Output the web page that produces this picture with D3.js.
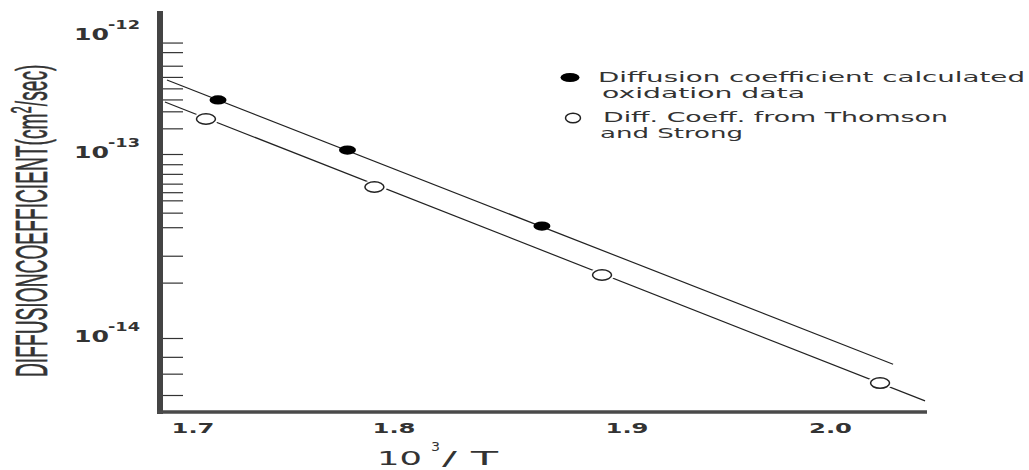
<!DOCTYPE html>
<html>
<head>
<meta charset="utf-8">
<script src="https://cdn.jsdelivr.net/npm/d3@7/dist/d3.min.js"></script>
<style>
  html, body { margin: 0; padding: 0; background: #fff; }
  svg { display: block; }
</style>
</head>
<body>
<svg id="chart" width="1029" height="470"></svg>
<script>
// ---- data ----
// x: 10^3 / T ; y: diffusion coefficient (cm^2/sec), log axis
const xTicks = [1.7, 1.8, 1.9, 2.0];
const decadeTicks = [1e-12, 1e-13, 1e-14];
const decadeLabels = ["-12", "-13", "-14"];
// unlabeled minor ticks along the coefficient axis
const minorTicks = [
  1.65e-13, 2.3e-13, 2.9e-13, 3.6e-13, 4.5e-13, 5.6e-13, 7.3e-13, 8.8e-13,
  2.0e-14, 2.8e-14, 4.0e-14, 4.8e-14, 5.6e-14, 6.2e-14, 6.9e-14, 7.8e-14, 8.8e-14,
  7.9e-15, 6.4e-15, 4.9e-15
];

// diffusion coefficient calculated from oxidation data (filled)
const oxidX = [1.7127, 1.7771, 1.8637];
const oxidY = [2.87e-13, 1.08e-13, 4.06e-14];
// Thomson and Strong (open)
const thomX = [1.7067, 1.7905, 1.8895, 2.0246];
const thomY = [1.98e-13, 6.62e-14, 2.20e-14, 5.69e-15];

// straight-line fits through each set
const oxidFitX = [1.6873, 2.0310];
const oxidFitY = [4.24e-13, 7.2e-15];
const thomFitX = [1.6863, 2.0467];
const thomFitY = [2.76e-13, 4.55e-15];

const legendOxid = ["Diffusion coefficient calculated", "oxidation data"];
const legendThom = ["Diff. Coeff. from Thomson", "and Strong"];

// ---- layout ----
const plotLeft = 160, plotRight = 927, plotTop = 11, plotBottom = 412;
const textColor = "#333";

const svg = d3.select("#chart");

// hand-ruled axes: piecewise scales follow the ruled tick spacing
const x = d3.scaleLinear()
  .domain(xTicks)
  .range([192.5, 393.5, 626.5, 830]);
const y = d3.scaleLog()
  .domain(decadeTicks)
  .range([36, 154, 338]);

// ---- y ticks ----
const yAxis = d3.axisRight(y)
  .tickValues([1e-13, 1e-14].concat(minorTicks))
  .tickSize(20)
  .tickFormat("");
const gy = svg.append("g")
  .attr("transform", `translate(${plotLeft + 3},0)`)
  .call(yAxis);
gy.select(".domain").remove();
gy.selectAll(".tick line").attr("stroke", "#333").attr("stroke-width", 1.2);

// ---- x tick labels ----
const xAxis = d3.axisBottom(x)
  .tickValues(xTicks)
  .tickSize(0)
  .tickFormat(d3.format(".1f"));
const gx = svg.append("g")
  .attr("transform", `translate(0,${plotBottom})`)
  .call(xAxis);
gx.select(".domain").remove();
gx.selectAll(".tick text")
  .attr("y", 21)
  .attr("dy", null)
  .attr("fill", textColor)
  .style("font-family", "'DejaVu Sans', Verdana, sans-serif")
  .style("font-weight", "bold")
  .style("font-size", "14px")
  .attr("textLength", 43)
  .attr("lengthAdjust", "spacingAndGlyphs");

// ---- axis rules ----
svg.append("line")
  .attr("x1", plotLeft).attr("x2", plotLeft)
  .attr("y1", plotTop).attr("y2", plotBottom + 2)
  .attr("stroke", "#444").attr("stroke-width", 6);
svg.append("line")
  .attr("x1", plotLeft - 3).attr("x2", plotRight)
  .attr("y1", plotBottom).attr("y2", plotBottom)
  .attr("stroke", "#4a4a4a").attr("stroke-width", 3.5);

// ---- decade labels 10^n ----
const decG = svg.append("g")
  .style("font-family", "'DejaVu Sans', Verdana, sans-serif")
  .style("font-weight", "bold")
  .attr("fill", textColor);
decadeTicks.forEach((v, i) => {
  const by = y(v) + 4;
  decG.append("text")
    .attr("x", 74).attr("y", by)
    .style("font-size", "15px")
    .attr("textLength", 35).attr("lengthAdjust", "spacingAndGlyphs")
    .text("10");
  decG.append("text")
    .attr("x", 108).attr("y", by - 11)
    .style("font-size", "13px")
    .attr("textLength", 32).attr("lengthAdjust", "spacingAndGlyphs")
    .text(decadeLabels[i]);
});

// ---- fit lines ----
const line = d3.line().x(d => x(d[0])).y(d => y(d[1]));
svg.append("path")
  .datum(d3.zip(oxidFitX, oxidFitY))
  .attr("d", line)
  .attr("fill", "none").attr("stroke", "#222").attr("stroke-width", 1.2);
svg.append("path")
  .datum(d3.zip(thomFitX, thomFitY))
  .attr("d", line)
  .attr("fill", "none").attr("stroke", "#222").attr("stroke-width", 1.2);

// ---- markers ----
const thomPts = d3.zip(thomX, thomY);
svg.append("g").selectAll("ellipse")
  .data(thomPts).join("ellipse")
  .attr("cx", d => x(d[0])).attr("cy", d => y(d[1]))
  .attr("rx", 12.5).attr("ry", 7)
  .attr("fill", "#fff");
svg.append("g").selectAll("ellipse")
  .data(thomPts).join("ellipse")
  .attr("cx", d => x(d[0])).attr("cy", d => y(d[1]))
  .attr("rx", 9.5).attr("ry", 5.2)
  .attr("fill", "#fff").attr("stroke", "#222").attr("stroke-width", 1.5);
svg.append("g").selectAll("ellipse")
  .data(d3.zip(oxidX, oxidY)).join("ellipse")
  .attr("cx", d => x(d[0])).attr("cy", d => y(d[1]))
  .attr("rx", 8.5).attr("ry", 4.6)
  .attr("fill", "#000");

// ---- legend ----
const lg = svg.append("g")
  .style("font-family", "'DejaVu Sans', Verdana, sans-serif")
  .style("font-size", "14px")
  .attr("fill", textColor);
lg.append("ellipse").attr("cx", 570).attr("cy", 77.5).attr("rx", 9.5).attr("ry", 4.6).attr("fill", "#000");
lg.append("ellipse").attr("cx", 573).attr("cy", 118).attr("rx", 7.5).attr("ry", 4.8)
  .attr("fill", "#fff").attr("stroke", "#222").attr("stroke-width", 1.5);
const legRows = [
  { t: legendOxid[0], x: 598, y: 82, w: 427 },
  { t: legendOxid[1], x: 602, y: 98, w: 203 },
  { t: legendThom[0], x: 603, y: 122, w: 345 },
  { t: legendThom[1], x: 600, y: 138, w: 143 }
];
legRows.forEach(r => {
  lg.append("text")
    .attr("x", r.x).attr("y", r.y)
    .attr("textLength", r.w).attr("lengthAdjust", "spacingAndGlyphs")
    .text(r.t);
});

// ---- axis titles ----
// y: condensed, tall lettering
const yt = svg.append("text")
  .attr("transform", "translate(47,377) rotate(-90) scale(0.43,1)")
  .style("font-family", "'Liberation Sans', Arial, sans-serif")
  .style("font-size", "44.7px")
  .attr("fill", textColor)
  .attr("stroke", textColor)
  .attr("stroke-width", 0.6);
yt.append("tspan").text("DIFFUSIONCOEFFICIENT(cm");
yt.append("tspan").attr("dy", "-0.55em").style("font-size", "30px").text("2");
yt.append("tspan").attr("dy", "0.37em").text("/sec)");

// x: 10^3 / T
const xt = svg.append("g")
  .style("font-family", "'DejaVu Sans', Verdana, sans-serif")
  .attr("fill", textColor);
xt.append("text").attr("x", 377).attr("y", 465).style("font-size", "20px")
  .attr("textLength", 45).attr("lengthAdjust", "spacingAndGlyphs").text("10");
xt.append("text").attr("x", 431).attr("y", 451).style("font-size", "13px")
  .attr("textLength", 9).attr("lengthAdjust", "spacingAndGlyphs").text("3");
xt.append("text").attr("x", 442).attr("y", 465).style("font-size", "20px")
  .attr("textLength", 56).attr("lengthAdjust", "spacingAndGlyphs").text("/ T");
</script>
</body>
</html>
